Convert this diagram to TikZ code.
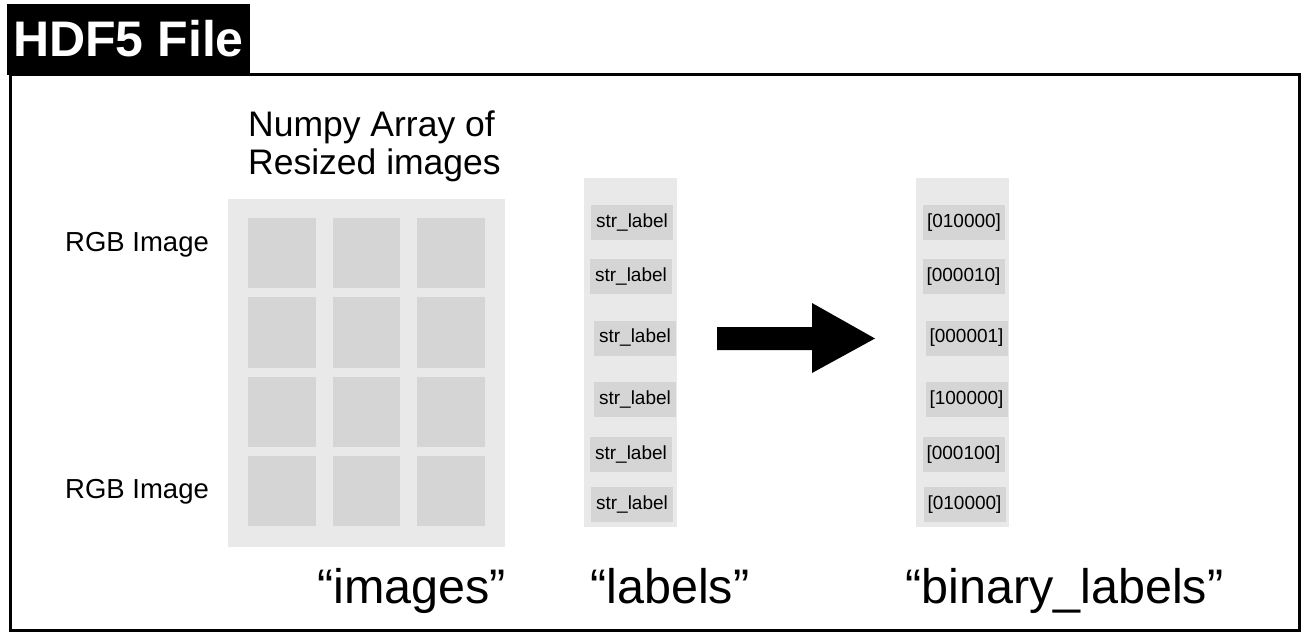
\documentclass[tikz,border=0pt]{standalone}
\usepackage{fontspec}
\setmainfont{Liberation Sans}
\definecolor{lightg}{HTML}{E9E9E9}
\definecolor{midg}{HTML}{D5D5D5}
\begin{document}
\begin{tikzpicture}[x=1pt,y=-1pt,
  colbox/.style={fill=lightg, draw=none},
  cell/.style={fill=midg, draw=none},
  lab/.style={fill=midg, draw=none, inner sep=0pt, font=\fontsize{19}{22}\selectfont, minimum width=82pt, minimum height=35pt},
  txt/.style={anchor=base west, inner sep=0pt},
  big/.style={txt, font=\fontsize{48.5}{56}\selectfont},
  mid/.style={txt, font=\fontsize{35.5}{40}\selectfont},
  small/.style={txt, font=\fontsize{27.5}{32}\selectfont}]
\useasboundingbox (0,0) rectangle (1310,639);
% frame and title
\draw[line width=3pt] (10,75) rectangle (1299,630);
\fill[black] (7,4) rectangle (250,75);
\node[txt, text=white, font=\bfseries\fontsize{50}{56}\selectfont] (title) at (13,57) {HDF5 File};
% images block
\fill[colbox] (228,199) rectangle (505,547);
\foreach \cx/\cxe [count=\i] in {248/316,333/400,417/485}{
  \foreach \ry/\rye [count=\j] in {218/288,297/368,377/447,456/526}{
    \fill[cell] (\cx,\ry) rectangle (\cxe,\rye);
  }
}
\node[mid] (np1) at (248,137) {Numpy Array of};
\node[mid] (np2) at (248,175) {Resized images};
\node[small] (rgb1) at (65,252) {RGB Image};
\node[small] (rgb2) at (65,498) {RGB Image};
% labels column
\fill[colbox] (584,178) rectangle (677,527);
\node[lab] (l1) at (632,222.5) {str\_label};
\node[lab] (l2) at (631,277) {str\_label};
\node[lab] (l3) at (635,338) {str\_label};
\node[lab] (l4) at (635,399.5) {str\_label};
\node[lab] (l5) at (631,454.5) {str\_label};
\node[lab] (l6) at (632,504.5) {str\_label};
% binary column
\fill[colbox] (916,178) rectangle (1009,527);
\node[lab] (b1) at (964,222.5) {[010000]};
\node[lab] (b2) at (963.5,277) {[000010]};
\node[lab] (b3) at (966.5,338) {[000001]};
\node[lab] (b4) at (966.5,399.5) {[100000]};
\node[lab] (b5) at (963.5,454.5) {[000100]};
\node[lab] (b6) at (964.5,504.5) {[010000]};
% arrow
\fill[black] (717,327) -- (812,327) -- (812,303) -- (875,338.5) -- (812,373) -- (812,350) -- (717,350) -- cycle;
% captions
\node[big] (ci) at (317,603) {“images”};
\node[big] (cl) at (590,603) {“labels”};
\node[big] (cb) at (905,603) {“binary\_labels”};
\end{tikzpicture}
\end{document}
